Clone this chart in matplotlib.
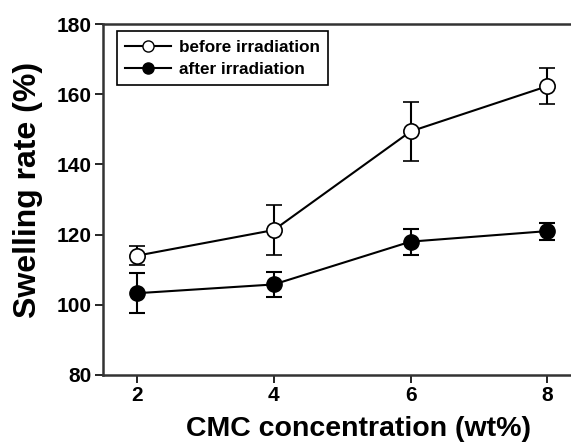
import matplotlib
matplotlib.use("Agg")
import matplotlib.pyplot as plt
from matplotlib.lines import Line2D

conc = [2, 4, 6, 8]
before = [114.0, 121.3, 149.4, 162.3]
before_err = [2.7, 7.2, 8.3, 5.1]
after = [103.3, 105.8, 118.0, 121.0]
after_err = [5.7, 3.6, 3.7, 2.4]

plt.rcParams['font.family'] = ['Liberation Sans', 'DejaVu Sans']
plt.rcParams['font.weight'] = 'bold'

fig = plt.figure(figsize=(5.71, 4.43), dpi=100)
ax = fig.add_axes([0.180, 0.1535, 0.8195, 0.7923])

ax.errorbar(conc, before, yerr=before_err, color='black', lw=1.5, marker='o',
            markersize=11, markerfacecolor='white', markeredgecolor='black',
            markeredgewidth=1.2, capsize=6, capthick=1.5, elinewidth=1.5)
ax.errorbar(conc, after, yerr=after_err, color='black', lw=1.5, marker='o',
            markersize=11, markerfacecolor='black', markeredgecolor='black',
            capsize=6, capthick=1.5, elinewidth=1.5)

ax.set_xlim(1.5, 8.34)
ax.set_ylim(80, 180)
ax.set_xticks(conc)
ax.set_yticks([80, 100, 120, 140, 160, 180])
ax.tick_params(direction='out', length=6, width=1.2, labelsize=15, colors='black', pad=2)
for lab in ax.get_xticklabels() + ax.get_yticklabels():
    lab.set_fontweight('bold')
ax.spines['right'].set_visible(False)
for s in ['left', 'bottom', 'top']:
    ax.spines[s].set_linewidth(1.8)
    ax.spines[s].set_color('#333333')

ax.set_xlabel('CMC concentration (wt%)', fontsize=20.5, fontweight='bold')
ax.xaxis.set_label_coords(0.547, -0.118)
ax.set_ylabel('Swelling rate (%)', fontsize=23, fontweight='bold')
ax.yaxis.set_label_coords(-0.128, 0.527)

handles = [
    Line2D([], [], color='black', lw=1.5, marker='o', markersize=8,
           markerfacecolor='white', markeredgecolor='black', markeredgewidth=1.0),
    Line2D([], [], color='black', lw=1.5, marker='o', markersize=8,
           markerfacecolor='black', markeredgecolor='black'),
]
leg = ax.legend(handles, ['before irradiation', 'after irradiation'],
                loc='upper left', bbox_to_anchor=(0.030, 0.980), fancybox=False,
                edgecolor='black', framealpha=1, prop={'weight': 'bold', 'size': 12.3},
                handlelength=2.7, handletextpad=0.42, borderpad=0.5, labelspacing=0.42,
                borderaxespad=0)
leg.get_frame().set_linewidth(1.2)

fig.savefig('out.png', dpi=100)
